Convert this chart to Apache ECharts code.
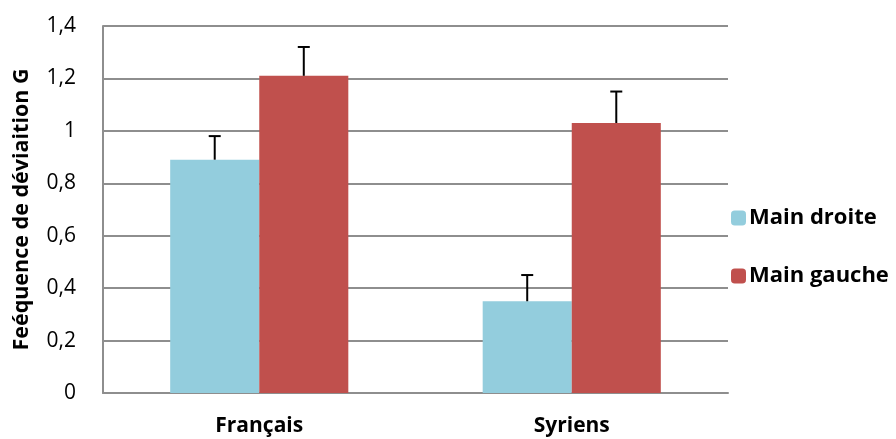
<!DOCTYPE html>
<html>
<head>
<meta charset="utf-8">
<script src="https://cdn.jsdelivr.net/npm/echarts@6/dist/echarts.min.js"></script>
<style>
  html, body { margin: 0; padding: 0; background: #fff; }
  #chart { width: 896px; height: 439px; }
</style>
</head>
<body>
<div id="chart"></div>
<script>
// Groups and measured frequencies with their error margins
const categories = ['Français', 'Syriens'];
const mainDroite = [0.89, 0.35];
const mainDroiteErr = [0.09, 0.10];
const mainGauche = [1.21, 1.03];
const mainGaucheErr = [0.11, 0.12];
const yTicks = { min: 0, max: 1.4, interval: 0.2 };

const FONT = '"Open Sans", "Liberation Sans", sans-serif';
const CAT_GAP = 0.43; // fraction of the band left empty between groups

function errorData(values, errs) {
  return values.map((v, i) => [i, v, v + errs[i]]);
}

// Draws a T-shaped error whisker above one bar of the pair
function makeErrorRenderer(side) {
  return function (params, api) {
    const idx = api.value(0);
    const band = api.size([1, 0])[0];
    const barW = band * (1 - CAT_GAP) / 2;
    const base = api.coord([idx, api.value(1)]);
    const top = api.coord([idx, api.value(2)]);
    const x = base[0] + side * barW / 2;
    const cap = 6;
    const style = { stroke: '#000', lineWidth: 2 };
    return {
      type: 'group',
      children: [
        { type: 'line', shape: { x1: x, y1: base[1], x2: x, y2: top[1] }, style },
        { type: 'line', shape: { x1: x - cap, y1: top[1], x2: x + cap, y2: top[1] }, style }
      ]
    };
  };
}

const chart = echarts.init(document.getElementById('chart'), null, { renderer: 'canvas' });
chart.setOption({
  animation: false,
  backgroundColor: '#fff',
  grid: { left: 103, right: 168, top: 26, bottom: 46, containLabel: false, outerBoundsMode: 'none' },
  legend: {
    orient: 'vertical',
    left: 726,
    top: 202,
    itemWidth: 15,
    itemHeight: 15,
    itemGap: 36,
    data: ['Main droite', 'Main gauche'],
    textStyle: { fontFamily: FONT, fontWeight: 'bold', fontSize: 22, color: '#000', padding: [0, 0, 0, -2] }
  },
  xAxis: {
    type: 'category',
    data: categories,
    axisTick: { show: false },
    axisLine: { lineStyle: { color: '#8e8e8e', width: 2 } },
    axisLabel: { fontFamily: FONT, fontWeight: 'bold', fontSize: 21, color: '#000', margin: 23 }
  },
  yAxis: {
    type: 'value',
    min: yTicks.min,
    max: yTicks.max,
    interval: yTicks.interval,
    name: 'Feéquence de déviaition G',
    nameLocation: 'middle',
    nameGap: 70,
    nameTextStyle: { fontFamily: FONT, fontWeight: 'bold', fontSize: 21.5, color: '#000' },
    axisLine: { show: true, lineStyle: { color: '#8e8e8e', width: 2 } },
    axisTick: { show: false },
    splitLine: { lineStyle: { color: '#8e8e8e', width: 2 } },
    axisLabel: {
      fontFamily: FONT, fontSize: 21, color: '#000', margin: 27,
      formatter: v => String(+v.toFixed(1)).replace('.', ',')
    }
  },
  series: [
    {
      name: 'Main droite', type: 'bar', data: mainDroite,
      barGap: '0%', barCategoryGap: (CAT_GAP * 100) + '%',
      itemStyle: { color: '#93CDDD' }
    },
    {
      name: 'Main gauche', type: 'bar', data: mainGauche,
      barGap: '0%', barCategoryGap: (CAT_GAP * 100) + '%',
      itemStyle: { color: '#C0504D' }
    },
    {
      type: 'custom', name: 'errDroite', renderItem: makeErrorRenderer(-1),
      data: errorData(mainDroite, mainDroiteErr), encode: { x: 0, y: [1, 2] }, z: 3
    },
    {
      type: 'custom', name: 'errGauche', renderItem: makeErrorRenderer(1),
      data: errorData(mainGauche, mainGaucheErr), encode: { x: 0, y: [1, 2] }, z: 3
    }
  ]
});
</script>
</body>
</html>
